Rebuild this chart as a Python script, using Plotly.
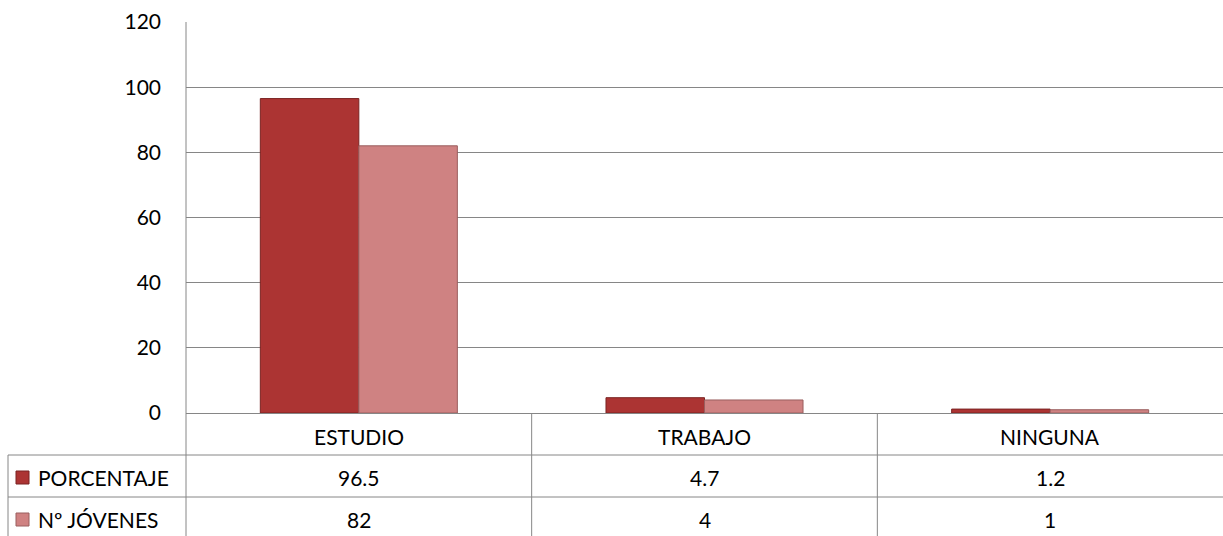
import plotly.graph_objects as go

categories = ["ESTUDIO", "TRABAJO", "NINGUNA"]
series_names = ["PORCENTAJE", "Nº JÓVENES"]
porcentaje = [96.5, 4.7, 1.2]
jovenes = [82, 4, 1]
y_ticks = [0, 20, 40, 60, 80, 100, 120]

W, H = 1223, 536
L, R, T, B = 186, 1223, 22, 413
FONT = "Lato"
FS = 21
GRID = "#868686"
colors = ["#AC3433", "#CF8282"]
edges = ["#7A2322", "#9A5E5E"]


def px(x):
    return (x - L) / (R - L)


def py(y):
    return (B - y) / (B - T)


fig = go.Figure()
for name, vals, c, e in zip(series_names, [porcentaje, jovenes], colors, edges):
    fig.add_trace(go.Bar(x=categories, y=vals, name=name,
                         marker=dict(color=c, line=dict(color=e, width=1)),
                         showlegend=False))

shapes = []
line = dict(color=GRID, width=1)
# table horizontal lines
for yy in [455, 497, 539]:
    shapes.append(dict(type="line", xref="paper", yref="paper",
                       x0=px(8), x1=px(R), y0=py(yy), y1=py(yy), line=line))
# left border of table label cells
shapes.append(dict(type="line", xref="paper", yref="paper",
                   x0=px(8), x1=px(8), y0=py(455), y1=py(540), line=line))
# left plot border down through table
shapes.append(dict(type="line", xref="paper", yref="paper",
                   x0=0, x1=0, y0=1, y1=py(540), line=line))
# category separators in table
ncat = len(categories)
for i in range(1, ncat):
    xx = L + (R - L) * i / ncat
    shapes.append(dict(type="line", xref="paper", yref="paper",
                       x0=px(xx), x1=px(xx), y0=0, y1=py(540), line=line))

annotations = []
row_y = [436, 477, 519]
for i, cat in enumerate(categories):
    annotations.append(dict(x=cat, xref="x", y=py(row_y[0]), yref="paper",
                            text=cat, showarrow=False, xanchor="center", yanchor="middle",
                            font=dict(family=FONT, size=FS, color="#000")))
for r, (name, vals, c, e) in enumerate(zip(series_names, [porcentaje, jovenes], colors, edges)):
    yy = row_y[r + 1]
    for cat, v in zip(categories, vals):
        annotations.append(dict(x=cat, xref="x", y=py(yy), yref="paper",
                                text=str(v), showarrow=False, xanchor="center", yanchor="middle",
                                font=dict(family=FONT, size=FS, color="#000")))
    annotations.append(dict(x=px(36), xref="paper", y=py(yy), yref="paper",
                            text=name, showarrow=False, xanchor="left", yanchor="middle",
                            font=dict(family=FONT, size=FS, color="#000")))
    shapes.append(dict(type="rect", xref="paper", yref="paper",
                       x0=px(16), x1=px(29), y0=py(yy + 7), y1=py(yy - 6),
                       fillcolor=c, line=dict(color=e, width=1)))

fig.update_layout(
    width=W, height=H,
    margin=dict(l=L, r=W - R, t=T, b=H - B),
    paper_bgcolor="white", plot_bgcolor="white",
    barmode="group", bargap=0.43, bargroupgap=0,
    font=dict(family=FONT, size=FS, color="#000"),
    shapes=shapes, annotations=annotations,
    xaxis=dict(showticklabels=False, showline=True, linecolor=GRID, linewidth=1,
               showgrid=False, zeroline=False),
    yaxis=dict(range=[0, 120], tickvals=y_ticks, showgrid=True, gridcolor=GRID,
               gridwidth=1, zeroline=False, showline=False,
               ticks="", ticklabelstandoff=24,
               tickfont=dict(family=FONT, size=FS, color="#000")),
)

fig.write_html("out.html", config={"displayModeBar": False},
               post_script="document.body.style.margin='0';document.body.style.overflow='hidden';")
